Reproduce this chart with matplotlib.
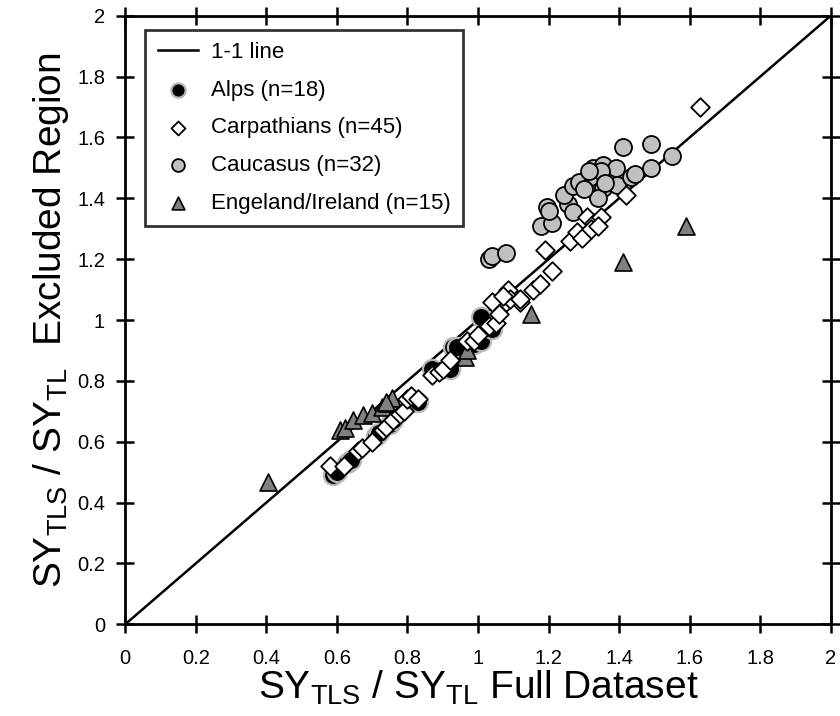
import matplotlib
matplotlib.use("Agg")
import matplotlib.pyplot as plt
import numpy as np

plt.rcParams['font.family'] = ['Liberation Sans', 'DejaVu Sans']
plt.rcParams['mathtext.fontset'] = 'custom'
plt.rcParams['mathtext.rm'] = 'Liberation Sans'
plt.rcParams['mathtext.it'] = 'Liberation Sans'

alps_x = [0.59, 0.60, 0.63, 0.64, 0.71, 0.72, 0.75, 0.76, 0.82, 0.83, 0.87, 0.92, 0.93, 0.94, 0.99, 1.01, 1.01, 1.04]
alps_y = [0.49, 0.50, 0.53, 0.54, 0.62, 0.63, 0.66, 0.67, 0.73, 0.73, 0.84, 0.84, 0.91, 0.91, 0.92, 0.93, 1.01, 0.97]

carp_x = [0.58, 0.62, 0.66, 0.67, 0.70, 0.73, 0.74, 0.76, 0.78, 0.79, 0.80, 0.81, 0.87, 0.89, 0.90,
          0.97, 0.99, 1.00, 1.03, 1.05, 1.05, 1.08, 1.12, 1.04, 1.085, 1.09, 1.12, 1.155, 1.175, 1.21,
          1.19, 1.26, 1.28, 1.295, 1.31, 1.33, 1.35, 1.32, 1.34, 1.42, 1.63, 1.06, 0.83, 1.07, 0.92]
carp_y = [0.52, 0.52, 0.57, 0.58, 0.60, 0.64, 0.65, 0.67, 0.69, 0.70, 0.74, 0.75, 0.82, 0.83, 0.84,
          0.93, 0.93, 0.95, 0.98, 0.99, 1.05, 1.06, 1.06, 1.06, 1.10, 1.07, 1.07, 1.10, 1.12, 1.16,
          1.23, 1.26, 1.29, 1.27, 1.34, 1.32, 1.34, 1.30, 1.31, 1.41, 1.70, 1.02, 0.74, 1.08, 0.87]

cauc_x = [1.03, 1.04, 1.08, 1.18, 1.21, 1.195, 1.20, 1.255, 1.27, 1.245, 1.27, 1.285, 1.325, 1.33, 1.34, 1.355,
          1.325, 1.355, 1.355, 1.39, 1.395, 1.435, 1.445, 1.49, 1.55, 1.41, 1.49, 1.34, 1.35, 1.315, 1.30, 1.36]
cauc_y = [1.20, 1.21, 1.22, 1.31, 1.32, 1.37, 1.36, 1.38, 1.355, 1.41, 1.44, 1.455, 1.47, 1.44, 1.42, 1.435,
          1.50, 1.50, 1.51, 1.50, 1.445, 1.47, 1.48, 1.50, 1.54, 1.57, 1.58, 1.40, 1.49, 1.49, 1.43, 1.45]

eng_x = [0.405, 0.61, 0.623, 0.646, 0.674, 0.70, 0.728, 0.742, 0.756, 0.74, 0.963, 0.97, 1.15, 1.41, 1.59]
eng_y = [0.467, 0.638, 0.645, 0.671, 0.688, 0.694, 0.714, 0.727, 0.743, 0.73, 0.878, 0.90, 1.02, 1.19, 1.31]

one_line = [0, 2]
ticks = [0, 0.2, 0.4, 0.6, 0.8, 1, 1.2, 1.4, 1.6, 1.8, 2]
tick_labels = ['0', '0.2', '0.4', '0.6', '0.8', '1', '1.2', '1.4', '1.6', '1.8', '2']

fig = plt.figure(figsize=(8.4, 7.16), dpi=100)
ax = fig.add_axes([0.149, 0.128, 0.840, 0.850])

ax.plot(one_line, one_line, color='black', lw=1.8, label='1-1 line', zorder=1)
ax.scatter(cauc_x, cauc_y, s=150, marker='o', facecolor='#c0c0c0', edgecolor='black', linewidth=1.3,
           label='Caucasus (n=32)', zorder=2)
ax.scatter(alps_x, alps_y, s=190, marker='o', facecolor='black', edgecolor='#b8b8b8', linewidth=1.6,
           label='Alps (n=18)', zorder=3)
ax.scatter(eng_x, eng_y, s=150, marker='^', facecolor='#808080', edgecolor='black', linewidth=1.2,
           label='Engeland/Ireland (n=15)', zorder=4)
ax.scatter(carp_x, carp_y, s=90, marker='D', facecolor='white', edgecolor='black', linewidth=1.3,
           label='Carpathians (n=45)', zorder=5)

ax.set_xlim(0, 2)
ax.set_ylim(0, 2)
ax.set_xticks(ticks)
ax.set_xticklabels(tick_labels)
ax.set_yticks(ticks)
ax.set_yticklabels(tick_labels)
ax.tick_params(direction='inout', length=13, width=1.8, labelsize=14.5, top=True, right=True)
ax.tick_params(axis='x', pad=11)
ax.tick_params(axis='y', pad=8)
for s in ax.spines.values():
    s.set_linewidth(2)

ax.set_xlabel(r'SY$_{\mathrm{TLS}}$ / SY$_{\mathrm{TL}}$ Full Dataset', fontsize=28, labelpad=1)
ax.set_ylabel(r'SY$_{\mathrm{TLS}}$ / SY$_{\mathrm{TL}}$  Excluded Region', fontsize=28, labelpad=4)

handles, labels = ax.get_legend_handles_labels()
order = ['1-1 line', 'Alps (n=18)', 'Carpathians (n=45)', 'Caucasus (n=32)', 'Engeland/Ireland (n=15)']
hmap = dict(zip(labels, handles))
leg = ax.legend([hmap[o] for o in order], order, loc='upper left', bbox_to_anchor=(0.013, 0.995),
                fontsize=16, frameon=True, fancybox=False, edgecolor='black', handlelength=1.8,
                handletextpad=0.6, labelspacing=0.75, borderpad=0.55, markerscale=0.75)
leg.get_frame().set_linewidth(2)

fig.savefig('out.png', dpi=100)
